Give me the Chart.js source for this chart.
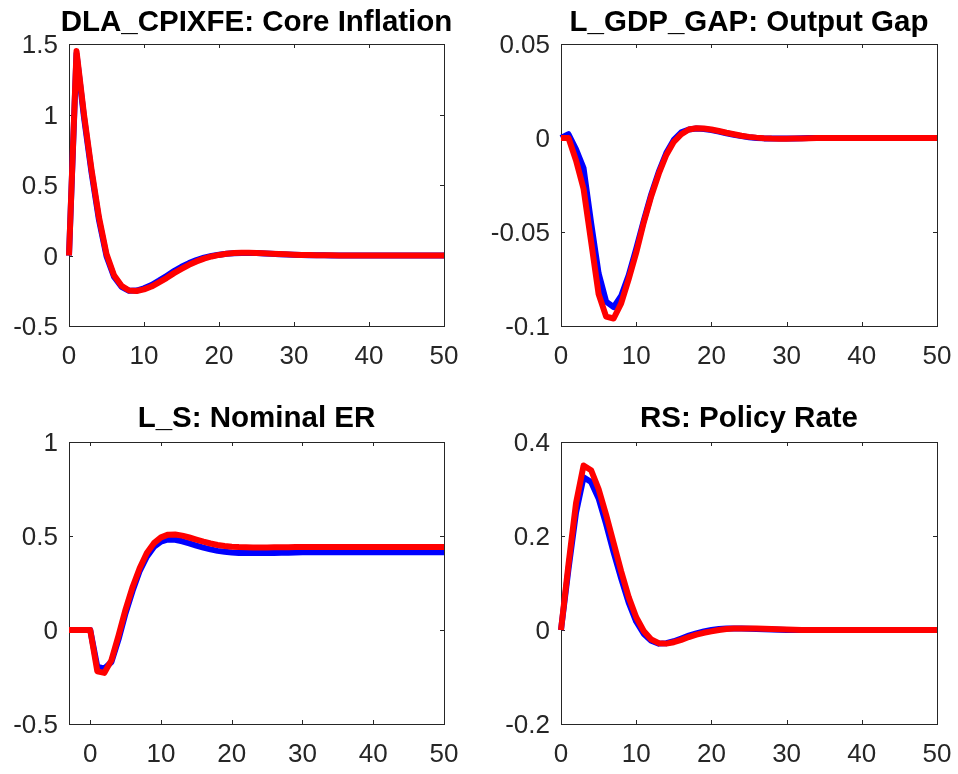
<!DOCTYPE html>
<html>
<head>
<meta charset="utf-8">
<title>Impulse responses</title>
<script src="https://cdn.jsdelivr.net/npm/chart.js@4/dist/chart.umd.min.js"></script>
<style>
  html, body { margin: 0; padding: 0; background: #ffffff; }
  #fig { position: relative; width: 958px; height: 774px; overflow: hidden; background: #ffffff; }
  #fig canvas { position: absolute; }
</style>
</head>
<body>
<div id="fig">
  <canvas id="cInfl" width="479" height="387" style="left:0px;top:0px"></canvas>
  <canvas id="cGap" width="540" height="387" style="left:479px;top:0px"></canvas>
  <canvas id="cEr" width="479" height="387" style="left:0px;top:387px"></canvas>
  <canvas id="cRate" width="540" height="387" style="left:479px;top:387px"></canvas>
</div>
<script>
// Quarters after the shock
const periods = [0,1,2,3,4,5,6,7,8,9,10,11,12,13,14,15,16,17,18,19,20,21,22,23,24,25,26,27,28,29,30,31,32,33,34,35,36,37,38,39,40,41,42,43,44,45,46,47,48,49,50];
const periodsEr = [-3,-2,-1,0,1,2,3,4,5,6,7,8,9,10,11,12,13,14,15,16,17,18,19,20,21,22,23,24,25,26,27,28,29,30,31,32,33,34,35,36,37,38,39,40,41,42,43,44,45,46,47,48,49,50];

// Axis ticks
const xTicks = [0,10,20,30,40,50];
const inflTicks = [-0.5,0,0.5,1,1.5];
const gapTicks = [-0.1,-0.05,0,0.05];
const erTicks = [-0.5,0,0.5,1];
const rateTicks = [-0.2,0,0.2,0.4];

// Panel titles
const titles = ['DLA_CPIXFE: Core Inflation', 'L_GDP_GAP: Output Gap', 'L_S: Nominal ER', 'RS: Policy Rate'];

// DLA_CPIXFE responses
const inflBlue = [0,1.43,0.98,0.59,0.25,-0.005,-0.15,-0.222,-0.25,-0.249,-0.233,-0.209,-0.178,-0.145,-0.111,-0.08,-0.054,-0.032,-0.015,-0.003,0.006,0.012,0.016,0.018,0.018,0.017,0.015,0.012,0.009,0.007,0.005,0.003,0.002,0.001,0.001,0,0,0,0,0,0,0,0,0,0,0,0,0,0,0,0];
const inflRed = [0,1.45,1.0,0.61,0.27,0.01,-0.14,-0.215,-0.248,-0.252,-0.24,-0.22,-0.19,-0.16,-0.125,-0.095,-0.066,-0.042,-0.022,-0.007,0.004,0.012,0.017,0.019,0.019,0.018,0.016,0.013,0.01,0.008,0.006,0.004,0.003,0.002,0.001,0.001,0,0,0,0,0,0,0,0,0,0,0,0,0,0,0];

// L_GDP_GAP responses
const gapBlue = [0,0.002,-0.006,-0.016,-0.045,-0.072,-0.087,-0.09,-0.084,-0.073,-0.059,-0.044,-0.03,-0.018,-0.008,-0.001,0.003,0.0045,0.005,0.0048,0.0042,0.0034,0.0025,0.0017,0.001,0.0004,0,-0.0002,-0.0003,-0.0003,-0.0003,-0.0002,-0.0001,0,0,0,0,0,0,0,0,0,0,0,0,0,0,0,0,0,0];
const gapRed = [0,0,-0.012,-0.027,-0.055,-0.083,-0.095,-0.096,-0.088,-0.075,-0.061,-0.045,-0.031,-0.019,-0.009,-0.002,0.002,0.0045,0.0052,0.005,0.0045,0.0037,0.0028,0.002,0.0012,0.0006,0.0002,-0.0001,-0.0003,-0.0004,-0.0004,-0.0003,-0.0002,-0.0001,0,0,0,0,0,0,0,0,0,0,0,0,0,0,0,0,0];

// L_S responses (from quarter -3)
const erBlue = [0,0,0,0,-0.195,-0.205,-0.17,-0.05,0.09,0.21,0.315,0.39,0.442,0.47,0.482,0.48,0.472,0.461,0.449,0.438,0.429,0.421,0.416,0.412,0.41,0.409,0.409,0.409,0.41,0.41,0.411,0.411,0.412,0.413,0.413,0.413,0.413,0.413,0.413,0.413,0.413,0.413,0.413,0.413,0.413,0.413,0.413,0.413,0.413,0.413,0.413,0.413,0.413,0.413];
const erRed = [0,0,0,0,-0.22,-0.228,-0.16,-0.03,0.11,0.23,0.33,0.41,0.462,0.493,0.507,0.508,0.502,0.492,0.481,0.47,0.46,0.452,0.447,0.443,0.441,0.44,0.439,0.439,0.439,0.44,0.44,0.44,0.441,0.441,0.442,0.442,0.442,0.442,0.442,0.442,0.442,0.442,0.442,0.442,0.442,0.442,0.442,0.442,0.442,0.442,0.442,0.442,0.442,0.442];

// RS responses
const rateBlue = [0,0.13,0.25,0.325,0.315,0.28,0.225,0.165,0.11,0.058,0.018,-0.008,-0.023,-0.029,-0.028,-0.024,-0.018,-0.012,-0.007,-0.003,0,0.002,0.003,0.003,0.003,0.0025,0.002,0.0015,0.001,0.0005,0,0,0,0,0,0,0,0,0,0,0,0,0,0,0,0,0,0,0,0,0];
const rateRed = [0,0.14,0.27,0.35,0.34,0.3,0.245,0.185,0.125,0.07,0.027,-0.002,-0.02,-0.028,-0.029,-0.026,-0.021,-0.015,-0.01,-0.006,-0.003,0,0.002,0.003,0.0033,0.0032,0.003,0.0025,0.002,0.0015,0.001,0.0005,0.0002,0,0,0,0,0,0,0,0,0,0,0,0,0,0,0,0,0,0];

const FONT = '"Liberation Sans", Arial, Helvetica, sans-serif';
const AXIS_COLOR = '#262626';
const TICK_LEN = 4;

// Axes box with inward tick marks on all four sides
const boxTicks = {
  id: 'boxTicks',
  beforeDatasetsDraw(chart) {
    const { ctx, chartArea: a, scales: { x, y } } = chart;
    ctx.save();
    ctx.strokeStyle = AXIS_COLOR;
    ctx.lineWidth = 1;
    ctx.beginPath();
    x.ticks.forEach(t => {
      const px = Math.round(x.getPixelForValue(t.value)) + 0.5;
      ctx.moveTo(px, a.bottom); ctx.lineTo(px, a.bottom - TICK_LEN);
      ctx.moveTo(px, a.top); ctx.lineTo(px, a.top + TICK_LEN);
    });
    y.ticks.forEach(t => {
      const py = Math.round(y.getPixelForValue(t.value)) + 0.5;
      ctx.moveTo(a.left, py); ctx.lineTo(a.left + TICK_LEN, py);
      ctx.moveTo(a.right, py); ctx.lineTo(a.right - TICK_LEN, py);
    });
    ctx.stroke();
    ctx.strokeRect(a.left + 0.5, a.top + 0.5, a.right - a.left, a.bottom - a.top);
    ctx.restore();
  }
};

// Bold title centred over the plot area
const panelTitle = {
  id: 'panelTitle',
  afterDraw(chart, args, opts) {
    const { ctx, chartArea: a } = chart;
    ctx.save();
    ctx.font = 'bold ' + opts.size + 'px ' + FONT;
    ctx.fillStyle = '#000000';
    ctx.textAlign = 'center';
    ctx.textBaseline = 'middle';
    ctx.fillText(opts.text, (a.left + a.right) / 2, a.top - opts.gap);
    ctx.restore();
  }
};

function series(xs, ys, color, order) {
  return {
    data: xs.map((v, i) => ({ x: v, y: ys[i] })),
    borderColor: color,
    backgroundColor: color,
    borderWidth: 6,
    pointRadius: 0,
    tension: 0,
    fill: false,
    borderJoinStyle: 'round',
    borderCapStyle: 'butt',
    order: order,
    clip: false
  };
}

function panel(id, o) {
  return new Chart(document.getElementById(id), {
    type: 'line',
    data: {
      datasets: [
        series(o.xs, o.blue, '#0000ff', 1),
        series(o.xs, o.red, '#ff0000', 0)
      ]
    },
    options: {
      responsive: false,
      animation: false,
      devicePixelRatio: 1,
      layout: { padding: { left: 0, right: o.padRight, top: o.padTop, bottom: 0 } },
      plugins: {
        legend: { display: false },
        tooltip: { enabled: false },
        title: { display: false },
        panelTitle: { text: o.title, size: 29.5, gap: o.titleGap }
      },
      scales: {
        x: {
          type: 'linear',
          min: o.xs[0],
          max: 50,
          grid: { display: false, drawTicks: false },
          border: { display: false },
          afterBuildTicks: s => { s.ticks = xTicks.map(v => ({ value: v })); },
          afterFit: s => { s.height = o.xAxisH; },
          ticks: {
            color: AXIS_COLOR,
            font: { family: FONT, size: 26, lineHeight: 1 },
            padding: 18,
            maxRotation: 0,
            autoSkip: false,
            callback: v => String(v)
          }
        },
        y: {
          type: 'linear',
          min: o.yTicks[0],
          max: o.yTicks[o.yTicks.length - 1],
          grid: { display: false, drawTicks: false },
          border: { display: false },
          afterBuildTicks: s => { s.ticks = o.yTicks.map(v => ({ value: v })); },
          afterFit: s => { s.width = o.yAxisW; },
          ticks: {
            color: AXIS_COLOR,
            font: { family: FONT, size: 26, lineHeight: 1 },
            padding: 11,
            labelOffset: 2,
            autoSkip: false,
            callback: v => String(v)
          }
        }
      }
    },
    plugins: [boxTicks, panelTitle]
  });
}

panel('cInfl', { xs: periods, blue: inflBlue, red: inflRed, yTicks: inflTicks, title: titles[0],
  padRight: 35, yAxisW: 69, xAxisH: 61, padTop: 44, titleGap: 21.5 });
panel('cGap', { xs: periods, blue: gapBlue, red: gapRed, yTicks: gapTicks, title: titles[1],
  padRight: 82, yAxisW: 82, xAxisH: 61, padTop: 44, titleGap: 21.5 });
panel('cEr', { xs: periodsEr, blue: erBlue, red: erRed, yTicks: erTicks, title: titles[2],
  padRight: 35, yAxisW: 69, xAxisH: 50, padTop: 55, titleGap: 23 });
panel('cRate', { xs: periods, blue: rateBlue, red: rateRed, yTicks: rateTicks, title: titles[3],
  padRight: 82, yAxisW: 82, xAxisH: 50, padTop: 55, titleGap: 23 });
</script>
</body>
</html>
